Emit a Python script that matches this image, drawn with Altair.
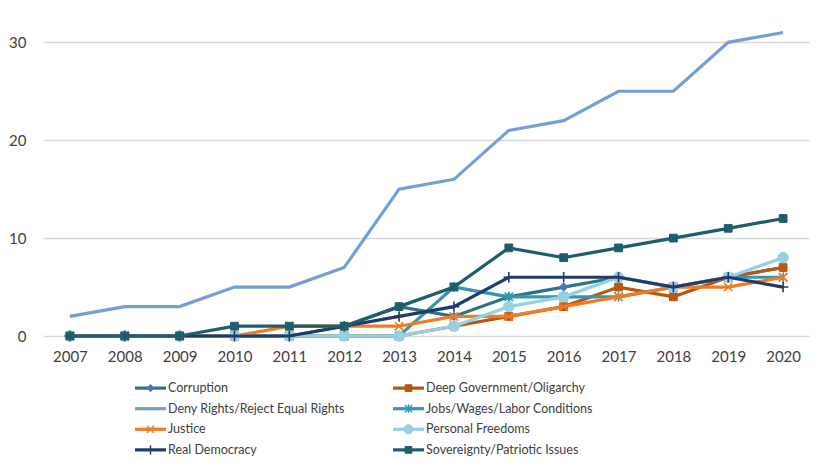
import altair as alt
import pandas as pd

years = list(range(2007, 2021))
series = [
    "Corruption",
    "Deep Government/Oligarchy",
    "Deny Rights/Reject Equal Rights",
    "Jobs/Wages/Labor Conditions",
    "Justice",
    "Personal Freedoms",
    "Real Democracy",
    "Sovereignty/Patriotic Issues",
]
corruption = [0, 0, 0, 0, 0, 1, 3, 2, 4, 5, 6, 5, 6, 7]
deep_gov = [0, 0, 0, 0, 0, 0, 0, 1, 2, 3, 5, 4, 6, 7]
deny_rights = [2, 3, 3, 5, 5, 7, 15, 16, 21, 22, 25, 25, 30, 31]
jobs = [0, 0, 0, 0, 0, 0, 0, 5, 4, 4, 4, 5, 6, 6]
justice = [0, 0, 0, 0, 1, 1, 1, 2, 2, 3, 4, 5, 5, 6]
personal = [0, 0, 0, 0, 0, 0, 0, 1, 3, 4, 6, 5, 6, 8]
real_dem = [0, 0, 0, 0, 0, 1, 2, 3, 6, 6, 6, 5, 6, 5]
sovereignty = [0, 0, 0, 1, 1, 1, 3, 5, 9, 8, 9, 10, 11, 12]
values = [corruption, deep_gov, deny_rights, jobs, justice, personal, real_dem, sovereignty]

line_colors = ["#2b7486", "#b9560f", "#739fd8", "#3496b2", "#f07c22", "#96d0e2", "#223a6a", "#1e5e6c"]
marker_fill = ["#4a74b8", "#b9560f", None, "#3496b2", "#f07c22", "#96d0e2", "#223a6a", "#1e5e6c"]

P_X = "M-1,-1L1,1M-1,1L1,-1"
P_PLUS = "M0,-1L0,1M-1,0L1,0"
P_STAR = "M-1,-1L1,1M-1,1L1,-1M0,-1.2L0,1.2"
# (shape, filled, size)
markers = [
    ("diamond", True, 70),
    ("square", True, 60),
    None,
    (P_STAR, False, 70),
    (P_X, False, 70),
    ("circle", True, 110),
    (P_PLUS, False, 110),
    ("square", True, 60),
]

rows = []
for s, vals in zip(series, values):
    for y, v in zip(years, vals):
        rows.append({"series": s, "year": y, "value": v})
df = pd.DataFrame(rows)

FONT = "Lato"
TXT = "#404040"
color_scale = alt.Scale(domain=series, range=line_colors)

x_enc = alt.X(
    "year:O",
    scale=alt.Scale(type="point", padding=0.49),
    axis=alt.Axis(labelAngle=0, ticks=False, tickSize=0, domain=False, grid=False,
                  labelPadding=13, labelFontSize=15, labelFont=FONT, labelColor=TXT, title=None),
)
y_enc = alt.Y(
    "value:Q",
    scale=alt.Scale(domain=[0, 33.3], nice=False, zero=True),
    axis=alt.Axis(values=[0, 10, 20, 30], grid=True, gridColor="#d9d9d9", gridWidth=1.5,
                  domain=False, ticks=False, tickSize=0, labelPadding=17, minExtent=35, maxExtent=35,
                  labelFontSize=15, labelFont=FONT, labelColor=TXT, title=None),
)

layers = []
for i, s in enumerate(series):
    base = alt.Chart(df).transform_filter(alt.datum.series == s)
    layers.append(
        base.mark_line(strokeWidth=3.2).encode(
            x=x_enc, y=y_enc,
            color=alt.Color("series:N", scale=color_scale, legend=None),
        )
    )
    if markers[i] is not None:
        shape, filled, size = markers[i]
        if filled:
            pm = base.mark_point(shape=shape, filled=True, size=size, fill=marker_fill[i],
                                 stroke=marker_fill[i], strokeWidth=1, opacity=1)
        else:
            pm = base.mark_point(shape=shape, filled=False, size=size, stroke=marker_fill[i],
                                 strokeWidth=1.6, opacity=1)
        layers.append(pm.encode(x=x_enc, y=y_enc))

main = alt.layer(*layers).properties(width=767, height=326)

# legend built from the series list
leg_rows = []
for i, s in enumerate(series):
    leg_rows.append({"series": s, "col": i % 2, "row": i // 2, "idx": i})
ldf = pd.DataFrame(leg_rows)

lx = alt.X("col:Q", scale=alt.Scale(domain=[-92 / 258, (767 - 92) / 258], nice=False, zero=False), axis=None)
ly = alt.Y("row:O", scale=alt.Scale(type="point", padding=0.2), axis=None)

leg_layers = []
for i, s in enumerate(series):
    b = alt.Chart(ldf).transform_filter(alt.datum.series == s)
    leg_layers.append(
        b.mark_tick(orient="horizontal", size=31, thickness=3.2, xOffset=15.5, opacity=1).encode(
            x=lx, y=ly, color=alt.Color("series:N", scale=color_scale, legend=None)
        )
    )
    if markers[i] is not None:
        shape, filled, size = markers[i]
        size = size * 0.75
        if filled:
            pm = b.mark_point(shape=shape, filled=True, size=size, fill=marker_fill[i],
                              stroke=marker_fill[i], strokeWidth=1, opacity=1, xOffset=15.5)
        else:
            pm = b.mark_point(shape=shape, filled=False, size=size, stroke=marker_fill[i],
                              strokeWidth=1.4, opacity=1, xOffset=15.5)
        leg_layers.append(pm.encode(x=lx, y=ly))
leg_layers.append(
    alt.Chart(ldf).mark_text(align="left", baseline="middle", dx=33, fontSize=12.5, font=FONT, color=TXT).encode(
        x=lx, y=ly, text="series:N"
    )
)
legend = alt.layer(*leg_layers).properties(width=767, height=70)

chart = alt.vconcat(main, legend, spacing=18).properties(
    padding={"left": 0, "top": 2, "right": 0, "bottom": 0},
    background="white",
).configure_view(stroke=None)

chart.save("out.html", embed_options={"renderer": "svg", "actions": False})
